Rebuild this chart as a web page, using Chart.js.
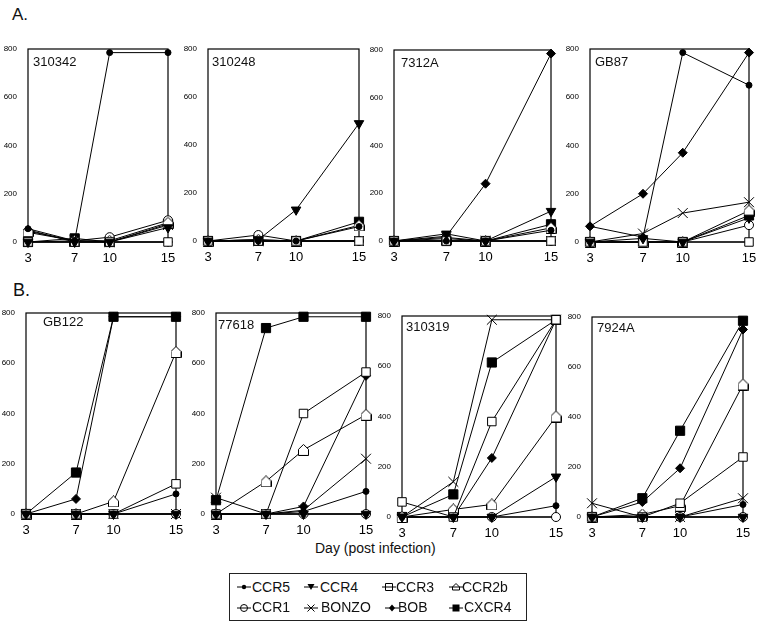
<!DOCTYPE html>
<html>
<head>
<meta charset="utf-8">
<script src="https://cdn.jsdelivr.net/npm/chart.js@4.4.1/dist/chart.umd.min.js"></script>
<style>
  body { margin: 0; background: #fff; font-family: "Liberation Sans", Arial, sans-serif; color: #111; }
  #wrap { position: relative; width: 762px; height: 624px; overflow: hidden; }
  canvas.panel { position: absolute; }
  .lbl { position: absolute; white-space: nowrap; line-height: 1; }
  #legend { position: absolute; left: 229px; top: 573px; width: 296px; height: 46px; border: 1px solid #222; }
  .sym { position: absolute; }
</style>
</head>
<body>
<div id="wrap">
  <div class="lbl" style="left:12px;top:6px;font-size:17px;">A.</div>
  <div class="lbl" style="left:13px;top:281px;font-size:18px;">B.</div>
  <div class="lbl" style="left:315px;top:541px;font-size:14px;">Day (post infection)</div>
  <div id="legend"></div>
</div>
<script>
// days sampled
const days = [3, 7, 10, 15];
const xTicks = [3, 7, 10, 15];
const yTicks = [0, 200, 400, 600, 800];

const receptors = ['CCR5', 'CCR4', 'CCR3', 'CCR2b', 'CCR1', 'BONZO', 'BOB', 'CXCR4'];
const isolates = ['310342', '310248', '7312A', 'GB87', 'GB122', '77618', '310319', '7924A'];

// rows follow receptor order: CCR5, CCR4, CCR3, CCR2b, CCR1, BONZO, BOB, CXCR4
const p310342 = [
  [55, 5, 785, 785],
  [0, 0, 0, 60],
  [0, 0, 0, 0],
  [45, 5, 5, 80],
  [40, 5, 20, 90],
  [0, 5, 0, 70],
  [50, 0, 0, 0],
  [0, 15, 0, 75]
];
const p310248 = [
  [0, 0, 0, 60],
  [0, 5, 130, 490],
  [0, 0, 0, 0],
  [0, 5, 0, 65],
  [0, 25, 0, 0],
  [0, 0, 0, 0],
  [0, 0, 0, 0],
  [0, 5, 0, 80]
];
const p7312A = [
  [0, 0, 0, 45],
  [0, 30, 0, 125],
  [0, 0, 0, 0],
  [0, 10, 0, 55],
  [0, 0, 0, 0],
  [0, 15, 0, 0],
  [0, 20, 240, 785],
  [0, 0, 0, 70]
];
const pGB87 = [
  [65, 20, 785, 650],
  [0, 15, 0, 100],
  [0, 0, 0, 0],
  [0, 0, 0, 130],
  [0, 0, 0, 70],
  [0, 35, 120, 165],
  [65, 200, 370, 785],
  [0, 0, 0, 110]
];
const pGB122 = [
  [0, 0, 0, 80],
  [0, 0, 0, 0],
  [0, 0, 0, 120],
  [0, 0, 50, 645],
  [0, 0, 0, 0],
  [0, 0, 0, 0],
  [0, 60, 785, 785],
  [0, 165, 785, 785]
];
const p77618 = [
  [0, 0, 10, 90],
  [0, 0, 0, 0],
  [0, 0, 400, 565],
  [0, 130, 255, 395],
  [0, 0, 0, 0],
  [65, 0, 15, 220],
  [0, 0, 30, 550],
  [55, 740, 785, 785]
];
const p310319 = [
  [0, 0, 0, 45],
  [0, 0, 0, 160],
  [60, 0, 380, 785],
  [0, 30, 50, 400],
  [0, 0, 0, 0],
  [0, 140, 785, 785],
  [0, 0, 235, 785],
  [0, 90, 615, 785]
];
const p7924A = [
  [0, 0, 0, 50],
  [0, 0, 0, 0],
  [0, 0, 55, 240],
  [0, 10, 45, 530],
  [0, 0, 0, 0],
  [55, 0, 0, 75],
  [0, 60, 195, 750],
  [0, 75, 345, 785]
];
const panelValues = [p310342, p310248, p7312A, pGB87, pGB122, p77618, p310319, p7924A];

// plot frame of each panel on the page: left, top, right, bottom
const frames = [
  [28, 49, 168, 242], [208, 49, 359, 241], [394, 50, 551, 241], [590, 49, 749, 242],
  [26, 313, 176, 514], [216, 313, 366, 514], [402, 316, 556, 517], [592, 317, 743, 517]
];
const titlePos = [
  [33, 55], [212, 55], [401, 56], [595, 55],
  [43, 315], [218, 318], [406, 320], [597, 321]
];

const PADL = 30, PADT = 10, PADR = 12, PADB = 22;

function houseCanvas(w, h) {
  const c = document.createElement('canvas');
  c.width = w; c.height = h;
  const g = c.getContext('2d');
  g.beginPath();
  g.moveTo(0.5, h - 0.5);
  g.lineTo(w - 0.5, h - 0.5);
  g.lineTo(w - 0.5, h * 0.45);
  g.lineTo(w / 2, 0.5);
  g.lineTo(0.5, h * 0.45);
  g.closePath();
  g.fillStyle = '#fff';
  g.fill();
  g.strokeStyle = '#000';
  g.lineWidth = 1;
  g.stroke();
  return c;
}
const house = houseCanvas(11, 12);

const markers = {
  CCR5:  { pointStyle: 'circle', pointRadius: 3, pointBackgroundColor: '#000' },
  CCR4:  { pointStyle: 'triangle', pointRotation: 180, pointRadius: 5.5, pointBackgroundColor: '#000' },
  CCR3:  { pointStyle: 'rect', pointRadius: 6, pointBackgroundColor: '#fff' },
  CCR2b: { pointStyle: house, pointRadius: 6, pointBackgroundColor: '#fff' },
  CCR1:  { pointStyle: 'circle', pointRadius: 4.5, pointBackgroundColor: '#fff' },
  BONZO: { pointStyle: 'crossRot', pointRadius: 7, pointBackgroundColor: '#000' },
  BOB:   { pointStyle: 'rectRot', pointRadius: 4.5, pointBackgroundColor: '#000' },
  CXCR4: { pointStyle: 'rect', pointRadius: 6.5, pointBackgroundColor: '#000' }
};

const framePlugin = {
  id: 'frame',
  beforeDatasetsDraw(chart) {
    const a = chart.chartArea, ctx = chart.ctx;
    ctx.save();
    ctx.strokeStyle = '#000';
    ctx.lineWidth = 1.2;
    ctx.strokeRect(a.left, a.top, a.right - a.left, a.bottom - a.top);
    ctx.restore();
  }
};

const wrap = document.getElementById('wrap');

panelValues.forEach((vals, p) => {
  const [L, T, R, B] = frames[p];
  const cv = document.createElement('canvas');
  cv.className = 'panel';
  cv.width = (R - L) + PADL + PADR;
  cv.height = (B - T) + PADT + PADB;
  cv.style.left = (L - PADL) + 'px';
  cv.style.top = (T - PADT) + 'px';
  wrap.appendChild(cv);

  const t = document.createElement('div');
  t.className = 'lbl';
  t.style.left = titlePos[p][0] + 'px';
  t.style.top = titlePos[p][1] + 'px';
  t.style.fontSize = '13px';
  t.textContent = isolates[p];
  wrap.appendChild(t);

  const datasets = receptors.map((r, i) => Object.assign({
    label: r,
    data: days.map((d, k) => ({ x: d, y: vals[i][k] })),
    borderColor: '#000',
    borderWidth: 1,
    pointBorderColor: '#000',
    pointBorderWidth: 1,
    tension: 0,
    clip: false
  }, markers[r]));

  new Chart(cv, {
    type: 'line',
    data: { datasets },
    options: {
      responsive: false,
      animation: false,
      layout: { padding: { left: 0, top: PADT, right: PADR, bottom: 0 } },
      plugins: { legend: { display: false }, tooltip: { enabled: false } },
      scales: {
        x: {
          type: 'linear', min: 3, max: 15,
          grid: { display: false }, border: { display: false },
          afterBuildTicks: s => { s.ticks = xTicks.map(v => ({ value: v })); },
          afterFit: s => { s.height = PADB; },
          ticks: { color: '#000', padding: 1, font: { size: 13, family: 'Liberation Sans' } }
        },
        y: {
          min: 0, max: 800,
          grid: { display: false }, border: { display: false },
          afterBuildTicks: s => { s.ticks = yTicks.map(v => ({ value: v })); },
          afterFit: s => { s.width = PADL; },
          ticks: { color: '#000', padding: 3, font: { size: 8, family: 'Liberation Sans' } }
        }
      }
    },
    plugins: [framePlugin]
  });
});

// legend built in the page, symbols drawn in small canvases
const legendSym = [[6, 7], [73, 7], [151, 7], [218, 7], [6, 28], [73, 28], [154, 28], [218, 28]];
const legendText = [[22, 6], [90, 6], [166, 6], [232, 6], [22, 26], [91, 26], [168, 26], [234, 26]];
const legend = document.getElementById('legend');

function drawSym(g, name, cx, cy) {
  g.strokeStyle = '#000';
  g.fillStyle = '#000';
  g.lineWidth = 1;
  g.beginPath();
  g.moveTo(1, cy + 0.5); g.lineTo(15, cy + 0.5);
  g.stroke();
  g.beginPath();
  if (name === 'CCR5') {
    g.arc(cx, cy + 0.5, 2.2, 0, Math.PI * 2); g.fill();
  } else if (name === 'CCR4') {
    g.moveTo(cx - 3.5, cy - 2.5); g.lineTo(cx + 3.5, cy - 2.5); g.lineTo(cx, cy + 3.5); g.closePath(); g.fill();
  } else if (name === 'CCR3') {
    g.rect(cx - 3.5, cy - 3, 7, 7); g.stroke();
  } else if (name === 'CCR2b') {
    g.moveTo(cx - 3.5, cy + 3.5); g.lineTo(cx + 3.5, cy + 3.5); g.lineTo(cx + 3.5, cy + 0.5); g.lineTo(cx, cy - 3);
    g.lineTo(cx - 3.5, cy + 0.5); g.closePath(); g.stroke();
  } else if (name === 'CCR1') {
    g.arc(cx, cy + 0.5, 3.5, 0, Math.PI * 2); g.stroke();
  } else if (name === 'BONZO') {
    g.moveTo(cx - 3.5, cy - 3); g.lineTo(cx + 3.5, cy + 4); g.moveTo(cx + 3.5, cy - 3); g.lineTo(cx - 3.5, cy + 4); g.stroke();
  } else if (name === 'BOB') {
    g.moveTo(cx, cy - 3); g.lineTo(cx + 3, cy + 0.5); g.lineTo(cx, cy + 4); g.lineTo(cx - 3, cy + 0.5); g.closePath(); g.fill();
  } else if (name === 'CXCR4') {
    g.rect(cx - 3.5, cy - 3, 7, 7); g.fill();
  }
}

receptors.forEach((r, i) => {
  const c = document.createElement('canvas');
  c.className = 'sym';
  c.width = 16; c.height = 12;
  c.style.left = legendSym[i][0] + 'px';
  c.style.top = legendSym[i][1] + 'px';
  legend.appendChild(c);
  drawSym(c.getContext('2d'), r, 8, 5.5);

  const s = document.createElement('div');
  s.className = 'lbl';
  s.style.left = legendText[i][0] + 'px';
  s.style.top = legendText[i][1] + 'px';
  s.style.fontSize = '14px';
  s.textContent = r;
  legend.appendChild(s);
});
</script>
</body>
</html>
